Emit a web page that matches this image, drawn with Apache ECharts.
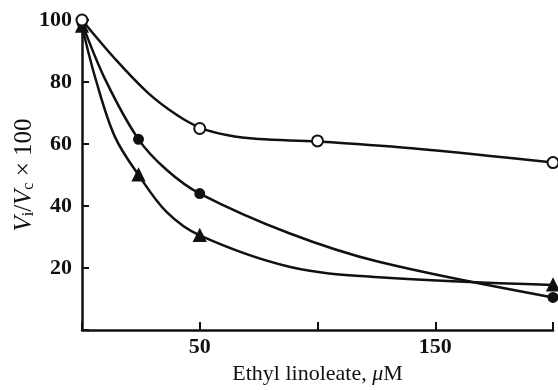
<!DOCTYPE html>
<html>
<head>
<meta charset="utf-8">
<script src="https://cdn.jsdelivr.net/npm/echarts@6/dist/echarts.min.js"></script>
<style>
  html, body { margin: 0; padding: 0; background: #fff; }
  #chart { width: 558px; height: 390px; }
</style>
</head>
<body>
<div id="chart"></div>
<script>
// x: ethyl linoleate (uM), y: Vi/Vc x 100
const openPoints = [[0, 100], [50, 65], [100, 61], [200, 54]];
const filledPoints = [[0, 99], [24, 61.5], [50, 44], [200, 10.5]];
const trianglePoints = [[0, 98], [24, 50], [50, 30.5], [200, 14.5]];

// fitted curves as drawn in the figure
const openCurve = [[0, 100], [14, 87.5], [28, 76.5], [40, 69.5], [50, 65.3], [62, 62.8], [75, 61.6],
  [100, 60.8], [140, 58.6], [200, 54]];
const filledCurve = [[0, 99], [10, 80.6], [24, 61.5], [36, 51.6], [50, 44],
  [88, 31.2], [126, 22], [200, 10.5]];
const triangleCurve = [[0, 98], [6, 80.4], [14, 62.3], [24, 50], [36, 38],
  [50, 30.5], [88, 20.4], [126, 17], [200, 14.5]];

const xTickLabels = ['50', '150'];
const yTickLabels = ['20', '40', '60', '80', '100'];

const FONT = "'Liberation Serif', 'Times New Roman', serif";
const INK = '#111';

const chart = echarts.init(document.getElementById('chart'));

function curve(data) {
  return {
    type: 'line',
    data: data,
    smooth: 0.35,
    showSymbol: false,
    silent: true,
    lineStyle: { color: INK, width: 2.5 },
    z: 2,
  };
}

function markers(data, symbol, size, fill) {
  return {
    type: 'scatter',
    data: data,
    symbol: symbol,
    symbolSize: size,
    itemStyle: { color: fill, borderColor: INK, borderWidth: 2, opacity: 1 },
    z: 5,
  };
}

const option = {
  backgroundColor: '#fff',
  animation: false,
  grid: { left: 82, right: 5, top: 20, bottom: 60, outerBoundsMode: 'none' },
  xAxis: {
    type: 'value',
    min: 0,
    max: 200,
    interval: 50,
    name: '{t|Ethyl linoleate, }{i|μ}{t|M}',
    nameLocation: 'middle',
    nameGap: 32,
    nameTextStyle: {
      rich: {
        t: { fontFamily: FONT, fontSize: 22, color: INK },
        i: { fontFamily: FONT, fontSize: 22, color: INK, fontStyle: 'italic' },
      },
    },
    axisLine: { lineStyle: { color: INK, width: 2.5 } },
    axisTick: { inside: true, length: 8, lineStyle: { color: INK, width: 2 } },
    axisLabel: {
      margin: 6,
      fontFamily: FONT,
      fontSize: 22,
      fontWeight: 'bold',
      color: INK,
      formatter: (v) => (xTickLabels.includes(String(v)) ? String(v) : ''),
    },
    splitLine: { show: false },
  },
  yAxis: {
    type: 'value',
    min: 0,
    max: 100,
    interval: 20,
    name: '{v|V}{s|i}{t|/}{v|V}{s|c}{t| × 100}',
    nameLocation: 'middle',
    nameGap: 45,
    nameMoveOverlap: false,
    nameRotate: 90,
    nameTextStyle: {
      rich: {
        v: { fontFamily: FONT, fontSize: 25, color: INK, fontStyle: 'italic', lineHeight: 26, verticalAlign: 'middle' },
        t: { fontFamily: FONT, fontSize: 25, color: INK, lineHeight: 26, verticalAlign: 'middle' },
        s: { fontFamily: FONT, fontSize: 16, color: INK, lineHeight: 26, verticalAlign: 'bottom' },
      },
    },
    axisLine: { show: true, lineStyle: { color: INK, width: 2.5 } },
    axisTick: { show: true, inside: true, length: 7, lineStyle: { color: INK, width: 2 } },
    axisLabel: {
      margin: 10,
      fontFamily: FONT,
      fontSize: 22,
      fontWeight: 'bold',
      color: INK,
      formatter: (v) => (yTickLabels.includes(String(v)) ? String(v) : ''),
    },
    splitLine: { show: false },
  },
  series: [
    curve(openCurve),
    curve(filledCurve),
    curve(triangleCurve),
    markers(trianglePoints, 'triangle', 11, INK),
    markers(filledPoints, 'circle', 9, INK),
    markers(openPoints, 'circle', 11, '#fff'),
  ],
};

chart.setOption(option);
</script>
</body>
</html>
